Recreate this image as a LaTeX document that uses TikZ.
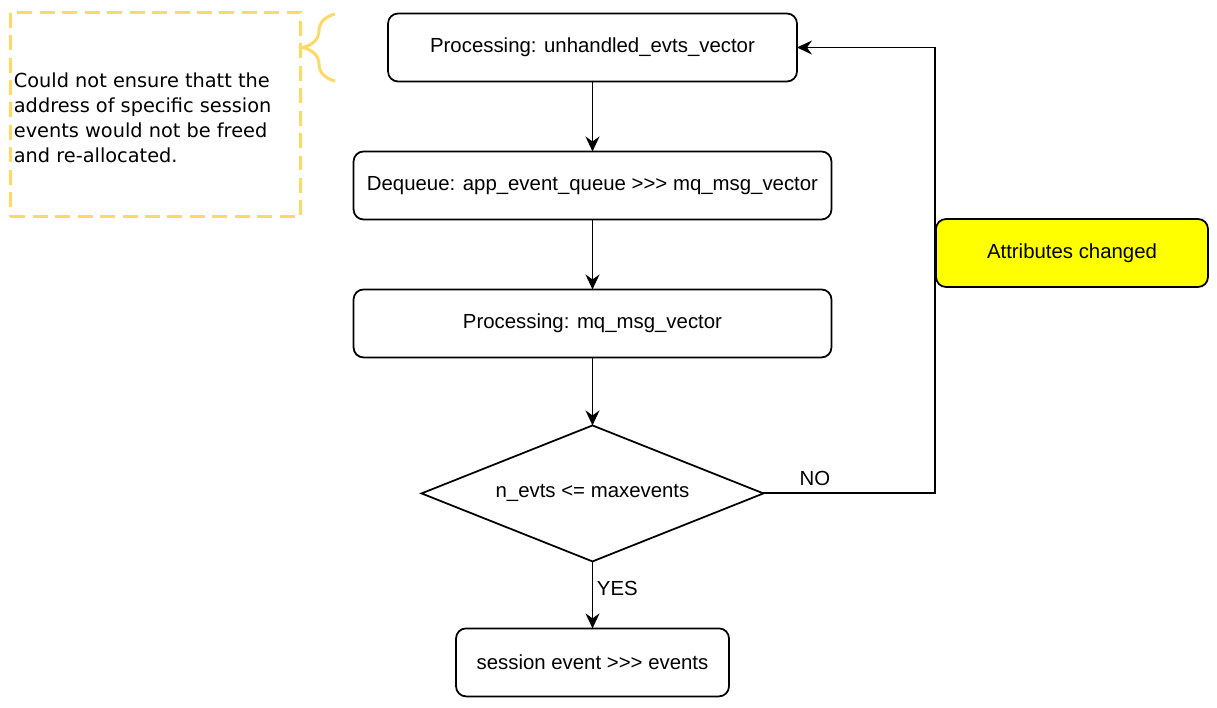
\documentclass[tikz,border=0pt]{standalone}
\usepackage{fontspec}
\setmainfont{Liberation Sans}[Ligatures=TeXOff]
\newfontfamily\notizfont{DejaVu Sans}
\usepackage{xcolor}
\usepackage{tikz}
\usetikzlibrary{arrows.meta}
\usetikzlibrary{shapes.geometric}
\usetikzlibrary{decorations.pathreplacing}
\usetikzlibrary{positioning}
\definecolor{notizgelb}{HTML}{FFD966}
\definecolor{kastengelb}{HTML}{FFFF00}
\tikzset{
  Kasten/.style={draw,line width=1pt,rounded corners=0.2cm,minimum height=1.36cm,inner sep=0pt,outer sep=0pt}, % für Schritte
  Raute/.style={draw,line width=1pt,diamond,aspect=2.53,inner sep=0pt,outer sep=0pt,minimum width=6.84cm,minimum height=2.72cm}, % für Abfrage
  Pfeil/.style={line width=1.1pt,->}, % für Verbindungen
  Notiz/.style={draw=notizgelb,line width=1.7pt,dash pattern=on 0.3cm off 0.15cm}, % für Notizrahmen
  Klammer/.style={draw=notizgelb,line width=1.7pt,decorate,decoration={brace,amplitude=0.64cm}}
}

\begin{document}
\begin{tikzpicture}[
x=0.02cm, y=-0.02cm,
font=\fontsize{11.6}{13.9}\selectfont,
>={Stealth[length=3mm,width=2.8mm,inset=1mm]} % Voreinstellung für Pfeilspitzen
]
\useasboundingbox (0,0) rectangle (1217,707);

%Schritte
\node[Kasten, minimum width=8.18cm] (unhandled) at (592.5,47.5) {Processing: unhandled\_evts\_vector};
\node[Kasten, minimum width=9.56cm, below=1.4cm of unhandled] (dequeue) {Dequeue: app\_event\_queue >>> mq\_msg\_vector};
\node[Kasten, minimum width=9.56cm, below=1.4cm of dequeue] (mqmsg) {Processing: mq\_msg\_vector};
\node[Raute, below=1.36cm of mqmsg] (abfrage) {n\_evts <= maxevents};
\node[Kasten, minimum width=5.46cm, below=1.34cm of abfrage] (session) {session event >>> events};
\node[Kasten, minimum width=5.44cm, fill=kastengelb] (attribute) at (1072,253) {Attributes changed};

%Notiz
\node[Notiz, minimum width=5.82cm, minimum height=4.1cm] (notiz) at (155.5,114.5) {};
\node[font=\notizfont\fontsize{11}{14.2}\selectfont, align=left, anchor=west, inner sep=0pt] (notiztext) at ([xshift=0.1cm,yshift=-0.07cm]notiz.west)
  {Could not ensure thatt the\\address of specific session\\events would not be freed\\and re-allocated.};
\coordinate (klammerunten) at (335,81);
\coordinate (klammeroben) at (335,14);
\draw[Klammer] (klammerunten) -- (klammeroben);

%Verbindungen
\coordinate (knick) at (935,0);
\draw[Pfeil] (unhandled) -- (dequeue);
\draw[Pfeil] (dequeue) -- (mqmsg);
\draw[Pfeil] (mqmsg) -- (abfrage);
\draw[Pfeil] (abfrage) -- node[right, pos=0.4, inner sep=2pt]{YES} (session);
\draw[Pfeil] (abfrage.east) -- node[above, pos=0.3, inner sep=4pt]{NO} (abfrage.east -| knick) |- (unhandled.east);

\end{tikzpicture}
\end{document}
